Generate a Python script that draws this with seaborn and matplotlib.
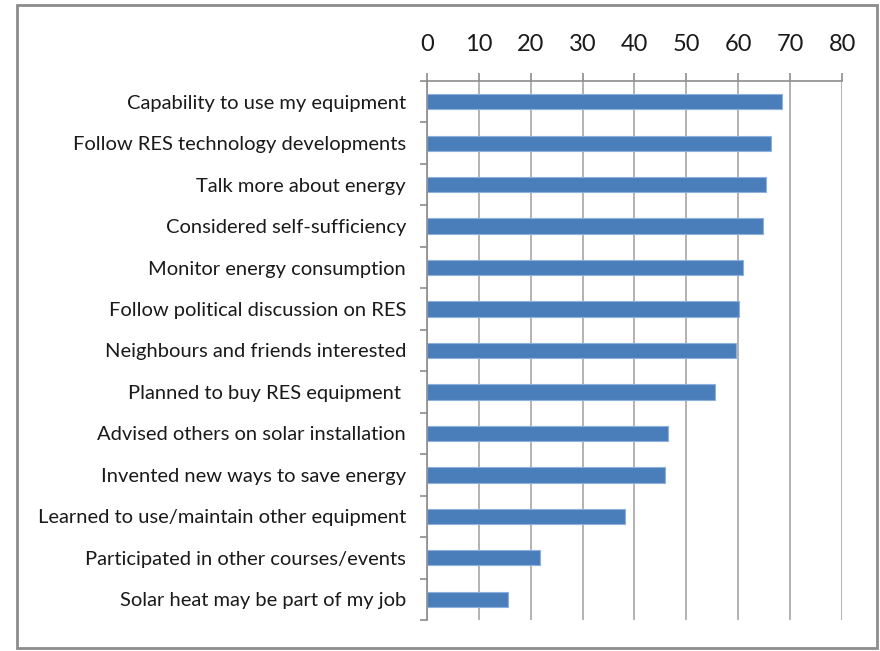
import pandas as pd
import matplotlib.pyplot as plt
import seaborn as sns
from matplotlib.patches import Rectangle

categories = [
    "Capability to use my equipment",
    "Follow RES technology developments",
    "Talk more about energy",
    "Considered self-sufficiency",
    "Monitor energy consumption",
    "Follow political discussion on RES",
    "Neighbours and friends interested",
    "Planned to buy RES equipment ",
    "Advised others on solar installation",
    "Invented new ways to save energy",
    "Learned to use/maintain other equipment",
    "Participated in other courses/events",
    "Solar heat may be part of my job",
]
values = [68.4, 66.2, 65.4, 64.7, 60.9, 60.2, 59.5, 55.6, 46.5, 45.9, 38.2, 21.8, 15.7]
x_ticks = [0, 10, 20, 30, 40, 50, 60, 70, 80]

df = pd.DataFrame({"item": categories, "value": values})

sns.set_theme(style="white")
plt.rcParams['font.family'] = ['Lato', 'DejaVu Sans']

fig = plt.figure(figsize=(8.8, 6.51), dpi=100)
ax = fig.add_axes([0.485, 0.0476, 0.472, 0.828])

sns.barplot(data=df, y="item", x="value", orient="h", color="#4A7EBB",
            edgecolor="#8DB0DD", linewidth=0.8, width=0.37, saturation=1, ax=ax)

ax.set_xlim(0, 80)
ax.set_ylim(12.5, -0.5)
ax.set_xticks(x_ticks)
ax.xaxis.tick_top()
ax.set_xlabel("")
ax.set_ylabel("")
ax.grid(axis="x", color="#A6A6A6", linewidth=1.2)
ax.set_axisbelow(True)

for side in ["right", "bottom"]:
    ax.spines[side].set_visible(False)
for side in ["top", "left"]:
    ax.spines[side].set_color("#8C8C8C")
    ax.spines[side].set_linewidth(1.2)

# category separators as ticks on the left spine
ax.set_yticks([i - 0.5 for i in range(14)], minor=True)
ax.tick_params(axis="y", which="minor", length=5, color="#8C8C8C", width=1.2, left=True)
ax.tick_params(axis="y", which="major", length=0, pad=15, labelsize=14.5, labelcolor="#1a1a1a")
ax.tick_params(axis="x", which="major", length=6, color="#8C8C8C", width=1.2,
               top=True, direction="out", pad=13, labelsize=17, labelcolor="#1a1a1a")

fig.patches.append(Rectangle((0.0193, 0.0046), 0.977, 0.988, transform=fig.transFigure,
                             fill=False, edgecolor="#8C8C8C", linewidth=2))

plt.savefig("out.png", dpi=100)
plt.close()
